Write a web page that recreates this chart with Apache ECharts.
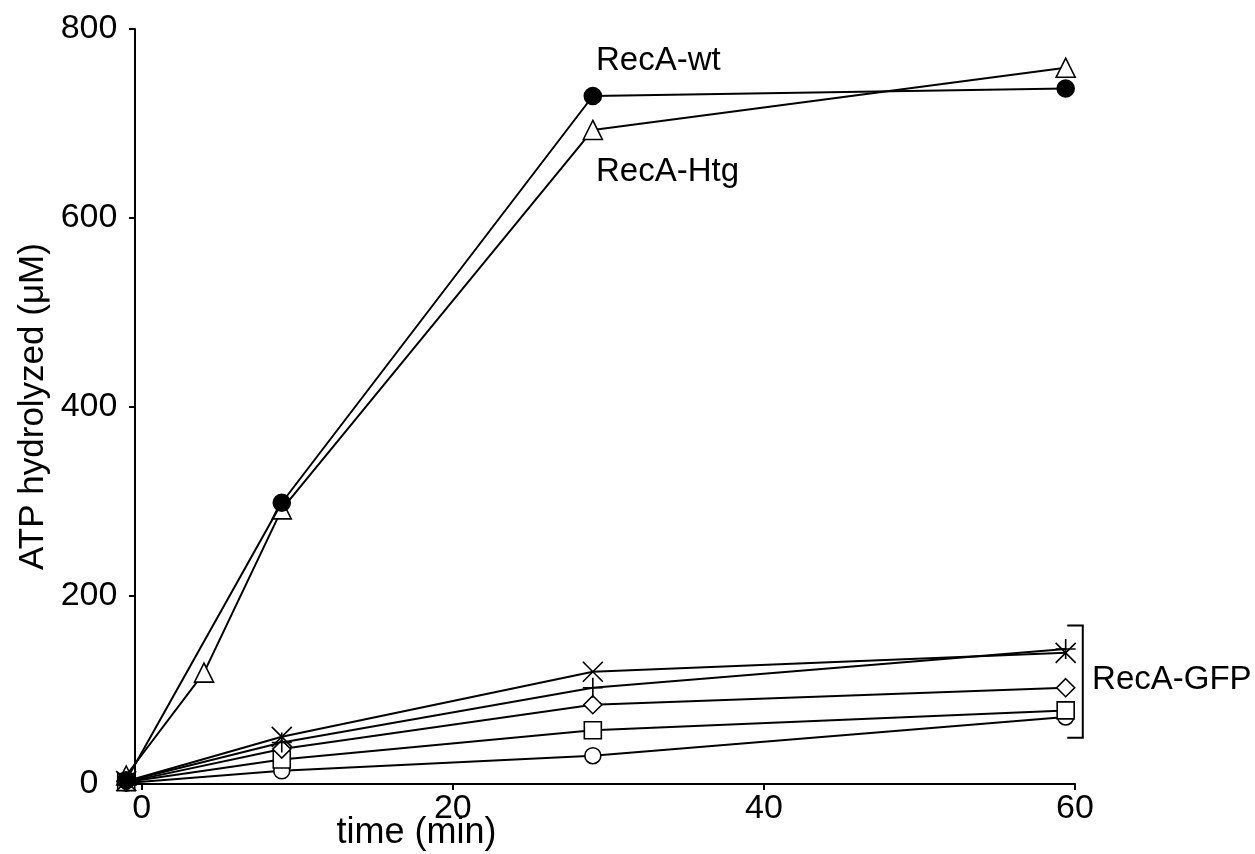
<!DOCTYPE html>
<html>
<head>
<meta charset="utf-8">
<script src="https://cdn.jsdelivr.net/npm/echarts@6/dist/echarts.min.js"></script>
<style>
html,body{margin:0;padding:0;background:#fff;}
#chart{width:1255px;height:854px;}
</style>
</head>
<body>
<div id="chart"></div>
<script>
// time points (min) as plotted
const wtTime = [-1, 9, 29, 59.4];
const wtValues = [4, 298, 729, 737];
const htgTime = [-1, 4, 9, 29, 59.4];
const htgValues = [9, 118, 291, 693, 759];
const gfpTime = [-1, 9, 29, 59.4];
const gfpCross = [3, 50, 119, 139];
const gfpPlus = [3, 44, 102, 143];
const gfpDiamond = [2, 37, 84, 102];
const gfpSquare = [2, 26, 57, 78];
const gfpCircle = [1, 14, 30, 71];
const xTicks = [0, 20, 40, 60];
const yTicks = [0, 200, 400, 600, 800];
const labelWt = {text: 'RecA-wt', t: 29.2, v: 766};
const labelHtg = {text: 'RecA-Htg', t: 29.2, v: 649};
const labelGfp = {text: 'RecA-GFP', t: 61.1, v: 110};
const bracket = {t0: 59.5, t1: 60.5, vTop: 168, vBottom: 49};

const FONT = '"Liberation Sans", Arial, Helvetica, sans-serif';
const pair = (ts, vs) => ts.map((t, i) => [t, vs[i]]);

function mkSeries(name, data, symbol, size, filled, z) {
  return {
    name, type: 'line', data, symbol, symbolSize: size,
    showSymbol: true, animation: false, z: z || 2,
    lineStyle: {color: '#000', width: 2},
    itemStyle: {color: filled ? '#000' : '#fff', borderColor: '#000', borderWidth: 1.6},
    emphasis: {disabled: true}
  };
}
const crossPath = 'path://M0,0L10,10M10,0L0,10';
const plusPath = 'path://M5,0L5,10M0,5L10,5';

const chart = echarts.init(document.getElementById('chart'), null, {renderer: 'canvas'});
chart.setOption({
  backgroundColor: '#fff',
  animation: false,
  grid: {left: 120, right: 180, top: 29, bottom: 70, containLabel: false, outerBoundsMode: 'none'},
  xAxis: {
    type: 'value', min: -1.4, max: 60,
    name: 'time (min)', nameLocation: 'middle', nameGap: 31, nameMoveOverlap: false,
    nameTextStyle: {fontFamily: FONT, fontSize: 36, color: '#000', padding: [0, 362, 0, 0]},
    splitLine: {show: false},
    axisLine: {onZero: false, lineStyle: {color: '#000', width: 2}},
    axisTick: {show: true, length: 6, inside: false, customValues: xTicks, lineStyle: {color: '#000', width: 2}},
    axisLabel: {customValues: xTicks, fontFamily: FONT, fontSize: 34, color: '#000', margin: 8}
  },
  yAxis: {
    type: 'value', min: 0, max: 800, interval: 200, offset: -15,
    name: 'ATP hydrolyzed (\u03bcM)', nameLocation: 'middle', nameGap: 84, nameRotate: 90, nameMoveOverlap: false,
    nameTextStyle: {fontFamily: FONT, fontSize: 35, color: '#000'},
    splitLine: {show: false},
    axisLine: {show: true, onZero: false, lineStyle: {color: '#000', width: 2}},
    axisTick: {show: true, length: 6, lineStyle: {color: '#000', width: 2}},
    axisLabel: {customValues: yTicks, fontFamily: FONT, fontSize: 34, color: '#000', margin: 46, align: 'center'}
  },
  series: [
    mkSeries('gfpCircle', pair(gfpTime, gfpCircle), 'circle', 16, false),
    mkSeries('gfpSquare', pair(gfpTime, gfpSquare), 'rect', 17, false),
    mkSeries('gfpDiamond', pair(gfpTime, gfpDiamond), 'diamond', 18, false),
    mkSeries('gfpPlus', pair(gfpTime, gfpPlus), plusPath, 20, false),
    mkSeries('gfpCross', pair(gfpTime, gfpCross), crossPath, 20, false),
    mkSeries('RecA-Htg', pair(htgTime, htgValues), 'triangle', 19, false),
    mkSeries('RecA-wt', pair(wtTime, wtValues), 'circle', 17, true, 3)
  ]
});

function px(t, v) { return chart.convertToPixel({gridIndex: 0}, [t, v]); }
const pWt = px(labelWt.t, labelWt.v);
const pHtg = px(labelHtg.t, labelHtg.v);
const pGfp = px(labelGfp.t, labelGfp.v);
const bTL = px(bracket.t0, bracket.vTop);
const bTR = px(bracket.t1, bracket.vTop);
const bBR = px(bracket.t1, bracket.vBottom);
const bBL = px(bracket.t0, bracket.vBottom);
const txt = (p, s) => ({type: 'text', x: p[0], y: p[1],
  style: {text: s, fontFamily: FONT, fontSize: 33, fill: '#000', textVerticalAlign: 'middle', textAlign: 'left'}});
chart.setOption({
  graphic: [
    txt(pWt, labelWt.text),
    txt(pHtg, labelHtg.text),
    txt(pGfp, labelGfp.text),
    {type: 'polyline', shape: {points: [bTL, bTR, bBR, bBL]},
     style: {stroke: '#000', lineWidth: 2, fill: null}}
  ]
});
</script>
</body>
</html>
